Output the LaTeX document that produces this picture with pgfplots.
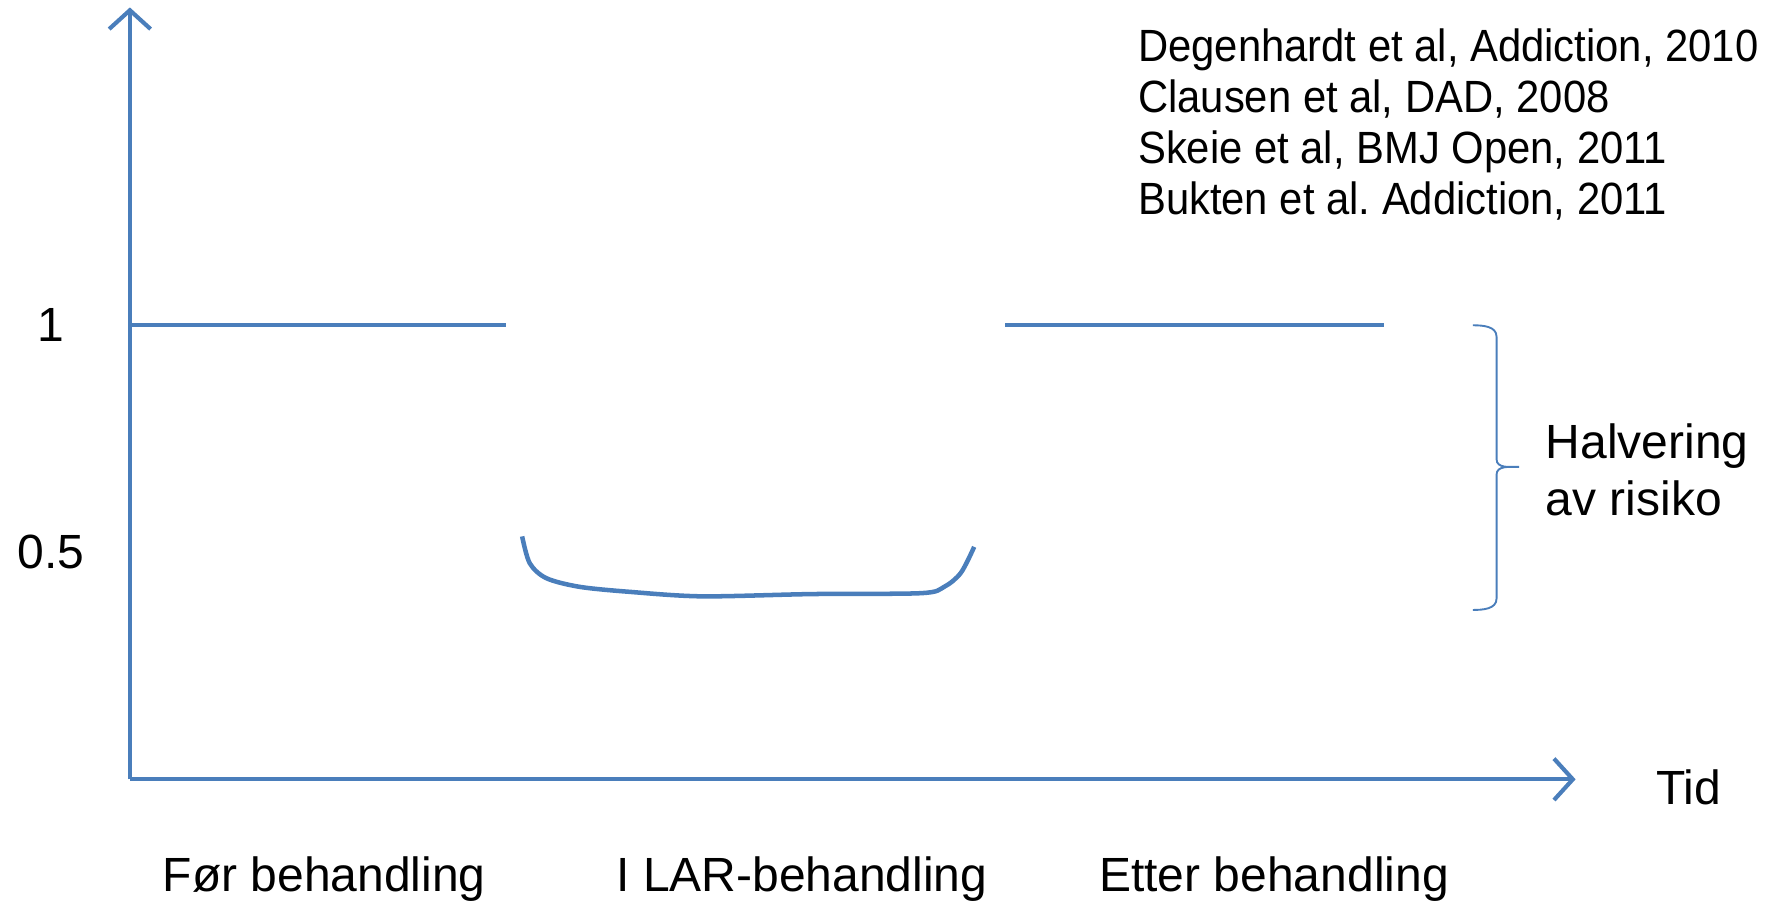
\documentclass[border=0pt]{standalone}
\usepackage{pgfplots}
\pgfplotsset{compat=1.18}
\usepackage{fontspec}
\setmainfont{Liberation Sans}
\newfontfamily\narrowfont[FakeStretch=0.925]{Liberation Sans}
\usetikzlibrary{arrows.meta}
\definecolor{lineblue}{HTML}{4A7EBB}
\frenchspacing
\begin{document}
\begin{tikzpicture}
\useasboundingbox (-34.5pt,-33pt) rectangle (435.9pt,207pt);
\begin{axis}[
    x=0.3pt, y=120.6pt,
    xmin=0, xmax=1280, ymin=0, ymax=1.7,
    axis lines=left,
    axis line style={lineblue, line width=1.1pt, -{Straight Barb[length=5pt,width=11pt,line width=1.1pt]}},
    clip=false,
    font=\fontsize{12.75}{14}\selectfont,
    major tick length=0pt,
    /pgf/number format/assume math mode=true,
    ytick={0.5,1},
    yticklabels={0.5,1},
    yticklabel style={anchor=center, xshift=-21pt},
    xtick={172,595,1013},
    xticklabels={Før behandling, I LAR-behandling, Etter behandling},
    xticklabel style={yshift=-17pt},
]
% before treatment
\addplot[lineblue, line width=1.1pt] coordinates {(0,1) (333,1)};
% after treatment
\addplot[lineblue, line width=1.1pt] coordinates {(775,1) (1110,1)};
% during treatment
\addplot[lineblue, line width=1.2pt, smooth, tension=0.5] coordinates {
    (347.3,0.535) (354,0.476) (368.7,0.443) (398,0.424) (442,0.413)
    (506.5,0.403) (603.6,0.408) (700.5,0.410) (721,0.424) (735.8,0.455) (747.5,0.512)};

\node[anchor=north west, align=left, inner sep=0pt, font=\narrowfont\fontsize{12}{13.5}\selectfont]
    at (axis cs:892,1.654)
    {Degenhardt et al, Addiction, 2010\\Clausen et al, DAD, 2008\\Skeie et al, BMJ Open, 2011\\Bukten et al.\ Addiction, 2011};
\node[anchor=north west, align=left, inner sep=0pt, font=\fontsize{12.75}{15}\selectfont]
    at (axis cs:1253,0.784) {Halvering\\av risiko};
\node[font=\fontsize{12.75}{14}\selectfont] at (axis cs:1380,-0.0174) {Tid};
% brace
\draw[lineblue, line width=0.5pt]
    (axis cs:1189,1.0) to[out=0,in=90] (axis cs:1210,0.975)
    -- (axis cs:1210,0.705) to[out=-90,in=180] (axis cs:1230,0.688)
    to[out=180,in=90] (axis cs:1210,0.671)
    -- (axis cs:1210,0.398) to[out=-90,in=0] (axis cs:1189,0.373);
\end{axis}
\end{tikzpicture}
\end{document}
